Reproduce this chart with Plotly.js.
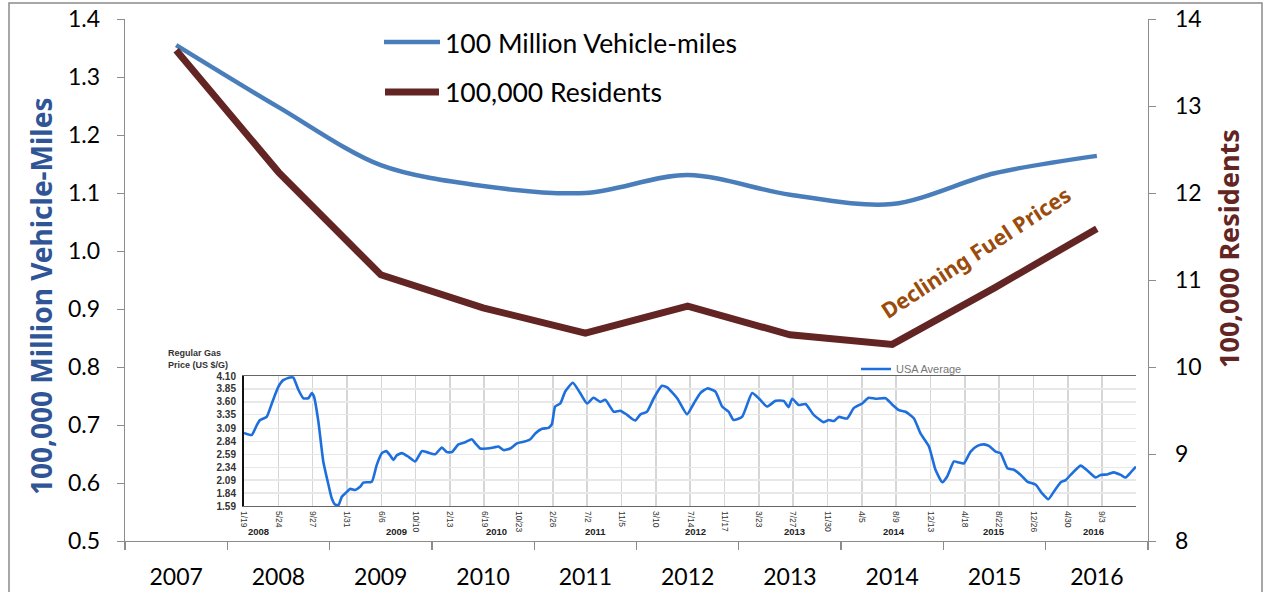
<!DOCTYPE html>
<html>
<head>
<meta charset="utf-8">
<script src="https://cdn.plot.ly/plotly-3.0.1.min.js"></script>
<style>html,body{margin:0;padding:0;background:#fff;}#chart{width:1265px;height:592px;}</style>
</head>
<body>
<div id="chart"></div>
<script>
// ---- Main chart data ----
const years = ['2007','2008','2009','2010','2011','2012','2013','2014','2015','2016'];
const vehicleMiles = [1.355, 1.248, 1.148, 1.112, 1.100, 1.131, 1.097, 1.081, 1.134, 1.164];
const residents = [13.64, 12.24, 11.06, 10.68, 10.39, 10.70, 10.37, 10.26, 10.91, 11.59];
const seriesNames = ['100 Million Vehicle-miles', '100,000 Residents'];

// ---- Inset: regular gas price (US $/G) ----
const gasDates = [
'2008-01-19','2008-02-16','2008-03-06','2008-03-18','2008-04-11','2008-04-30','2008-05-24','2008-06-11','2008-07-06','2008-07-18',
'2008-08-06','2008-08-24','2008-09-11','2008-09-24','2008-10-02','2008-10-18','2008-11-05','2008-11-24','2008-12-06','2008-12-18',
'2008-12-31','2009-01-12','2009-01-24','2009-02-11','2009-03-02','2009-03-20','2009-04-01','2009-05-02','2009-05-20','2009-06-08',
'2009-06-24','2009-07-08','2009-07-21','2009-08-02','2009-08-20','2009-09-14','2009-10-08','2009-11-02','2009-11-20','2009-12-21',
'2010-01-14','2010-02-02','2010-02-20','2010-03-16','2010-04-10','2010-05-04','2010-05-17','2010-06-04','2010-06-28','2010-07-23',
'2010-08-10','2010-08-29','2010-09-22','2010-10-17','2010-11-10','2010-12-05','2010-12-23','2011-01-17','2011-02-10','2011-02-22',
'2011-03-06','2011-03-25','2011-04-12','2011-05-10','2011-06-06','2011-07-01','2011-07-25','2011-08-19','2011-09-06','2011-10-07',
'2011-10-31','2011-11-25','2011-12-25','2012-01-13','2012-02-06','2012-03-02','2012-04-01','2012-04-20','2012-05-27','2012-07-02',
'2012-07-27','2012-08-20','2012-09-14','2012-10-14','2012-11-08','2012-12-02','2012-12-20','2013-01-20','2013-02-26','2013-03-22',
'2013-04-22','2013-05-23','2013-06-22','2013-07-10','2013-07-23','2013-08-16','2013-09-10','2013-10-10','2013-11-16','2013-12-04',
'2013-12-23','2014-01-10','2014-02-10','2014-03-06','2014-04-06','2014-04-30','2014-05-25','2014-07-01','2014-07-25','2014-08-19',
'2014-09-12','2014-10-13','2014-11-06','2014-12-07','2014-12-31','2015-01-25','2015-02-12','2015-03-09','2015-03-27','2015-04-14',
'2015-05-09','2015-06-03','2015-06-27','2015-07-15','2015-08-09','2015-08-27','2015-09-21','2015-10-15','2015-11-09','2015-12-03',
'2016-01-03','2016-01-27','2016-02-18','2016-03-10','2016-04-04','2016-04-22','2016-05-10','2016-06-16','2016-07-11','2016-08-10',
'2016-08-28','2016-09-22','2016-10-16','2016-11-10','2016-11-28','2016-12-17','2017-01-05'];
const gasPrices = [
3.00,2.96,3.15,3.25,3.31,3.57,3.89,4.02,4.07,4.07,
3.83,3.67,3.67,3.77,3.70,3.22,2.45,2.00,1.74,1.62,
1.61,1.77,1.83,1.92,1.90,1.96,2.04,2.06,2.38,2.61,
2.65,2.57,2.48,2.57,2.61,2.54,2.45,2.65,2.63,2.59,
2.72,2.63,2.63,2.78,2.82,2.88,2.80,2.70,2.70,2.72,
2.74,2.67,2.70,2.80,2.83,2.88,2.99,3.08,3.10,3.17,
3.51,3.57,3.80,3.97,3.77,3.57,3.68,3.60,3.64,3.41,
3.43,3.35,3.24,3.36,3.41,3.67,3.91,3.88,3.67,3.36,
3.57,3.77,3.86,3.80,3.51,3.41,3.25,3.31,3.77,3.67,
3.51,3.62,3.62,3.50,3.66,3.54,3.56,3.35,3.21,3.25,
3.23,3.31,3.28,3.48,3.57,3.68,3.66,3.67,3.55,3.44,
3.41,3.28,2.99,2.74,2.29,2.05,2.16,2.45,2.43,2.41,
2.64,2.75,2.78,2.75,2.64,2.61,2.32,2.29,2.19,2.06,
2.00,1.83,1.72,1.87,2.05,2.09,2.19,2.37,2.27,2.14,
2.19,2.20,2.24,2.19,2.14,2.24,2.35];
const gasTickDates = ['2008-01-19','2008-05-24','2008-09-27','2009-01-31','2009-06-06','2009-10-10','2010-02-13','2010-06-19','2010-10-23',
'2011-02-26','2011-07-02','2011-11-05','2012-03-10','2012-07-14','2012-11-17','2013-03-23','2013-07-27','2013-11-30','2014-04-05',
'2014-08-09','2014-12-13','2015-04-18','2015-08-22','2015-12-26','2016-04-30','2016-09-03'];
const gasTickLabels = ['1/19','5/24','9/27','1/31','6/6','10/10','2/13','6/19','10/23','2/26','7/2','11/5','3/10','7/14','11/17',
'3/23','7/27','11/30','4/5','8/9','12/13','4/18','8/22','12/26','4/30','9/3'];
const gasYTicks = [1.59,1.84,2.09,2.34,2.59,2.84,3.09,3.35,3.60,3.85,4.10];
const gasYears = [2008,2009,2010,2011,2012,2013,2014,2015,2016];
const gasRange = ['2008-01-19','2017-01-05'];

// ---- Styling ----
const FONT = 'Lato, "Noto Sans", sans-serif';
const BOLDFONT = '"Noto Sans", "Open Sans", sans-serif';
const ARIAL = 'Arial, "Liberation Sans", sans-serif';
const BLUE = '#4a7ebb', RED = '#632523';
const AXC = '#8c8c8c';

// plot area pixel geometry helpers (for text/decoration placement)
const W = 1265, H = 592, L = 125, R = 117, T = 19, B = 51;
const pw = W - L - R, ph = H - T - B;
const px = v => (v - L) / pw;
const py = v => (H - B - v) / ph;
const bold = s => '<b>' + s + '</b>';

const traces = [
  {x: years, y: vehicleMiles, name: seriesNames[0], type: 'scatter', mode: 'lines',
   line: {color: BLUE, width: 4.5, shape: 'spline', smoothing: 0.9}, xaxis: 'x', yaxis: 'y', showlegend: false},
  {x: years, y: residents, name: seriesNames[1], type: 'scatter', mode: 'lines',
   line: {color: RED, width: 7}, xaxis: 'x', yaxis: 'y2', showlegend: false},
  {x: gasDates, y: gasPrices, name: 'USA Average', type: 'scatter', mode: 'lines',
   line: {color: '#1c6fdc', width: 2.6, shape: 'spline', smoothing: 0.5}, xaxis: 'x2', yaxis: 'y3', showlegend: true}
];

const annotations = [
  {text: seriesNames[0], x: px(443), y: py(43), xref: 'paper', yref: 'paper', xanchor: 'left', yanchor: 'middle',
   showarrow: false, font: {family: FONT, size: 26.5, color: '#000'}},
  {text: seriesNames[1], x: px(443), y: py(92), xref: 'paper', yref: 'paper', xanchor: 'left', yanchor: 'middle',
   showarrow: false, font: {family: FONT, size: 26.5, color: '#000'}},
  {text: bold('100,000 Million Vehicle-Miles'), x: px(41), y: py(297), xref: 'paper', yref: 'paper', textangle: -90,
   xanchor: 'center', yanchor: 'middle',
   showarrow: false, font: {family: BOLDFONT, size: 28, color: '#2f5597'}},
  {text: bold('100,000 Residents'), x: px(1228), y: py(249), xref: 'paper', yref: 'paper', textangle: -90,
   xanchor: 'center', yanchor: 'middle',
   showarrow: false, font: {family: BOLDFONT, size: 27, color: RED}},
  {text: bold('Declining Fuel Prices'), x: px(975), y: py(252), xref: 'paper', yref: 'paper', textangle: -33,
   xanchor: 'center', yanchor: 'middle',
   showarrow: false, font: {family: BOLDFONT, size: 21.5, color: '#9a4c0c'}},
  {text: bold('Regular Gas<br>Price (US $/G)'), x: px(166), y: py(359), xref: 'paper', yref: 'paper', xanchor: 'left', yanchor: 'middle',
   align: 'left', showarrow: false, font: {family: ARIAL, size: 9, color: '#333'}}
];
gasYears.forEach(yr => {
  const d = yr === 2008 ? '2008-03-12' : yr + '-08-01';
  annotations.push({text: bold(String(yr)), x: d, y: py(531), xref: 'x2', yref: 'paper', showarrow: false,
    xanchor: 'center', yanchor: 'middle',
    font: {family: ARIAL, size: 9.5, color: '#222'}});
});

const shapes = [
  {type: 'line', xref: 'paper', yref: 'paper', x0: px(384), x1: px(440), y0: py(42), y1: py(42),
   line: {color: BLUE, width: 4.5}},
  {type: 'line', xref: 'paper', yref: 'paper', x0: px(385), x1: px(439), y0: py(92), y1: py(92),
   line: {color: RED, width: 7}},
  {type: 'rect', xref: 'paper', yref: 'paper', x0: px(9), x1: px(1262), y0: py(620), y1: py(3),
   line: {color: '#8a8a8a', width: 1.5}, fillcolor: 'rgba(0,0,0,0)', layer: 'below'}
];

const layout = {
  width: W, height: H,
  margin: {l: L, r: R, t: T, b: B, pad: 0},
  paper_bgcolor: '#fff', plot_bgcolor: 'rgba(0,0,0,0)',
  font: {family: FONT, color: '#000'},
  xaxis: {type: 'category', range: [-0.5, 9.5], domain: [0, 1], anchor: 'y',
    showline: true, linecolor: AXC, linewidth: 1.3, ticks: 'outside', tickson: 'boundaries',
    ticklen: 8, tickcolor: AXC, tickwidth: 1.3, showgrid: false, zeroline: false,
    tickfont: {family: FONT, size: 23, color: '#000'}, ticklabelstandoff: 15},
  yaxis: {range: [0.5, 1.4], dtick: 0.1, tick0: 0.5, tickformat: '.1f', anchor: 'x',
    showline: true, linecolor: AXC, linewidth: 1.3, ticks: 'outside', ticklen: 7, tickcolor: AXC,
    showgrid: false, zeroline: false, tickfont: {family: FONT, size: 23, color: '#000'}, ticklabelstandoff: 12},
  yaxis2: {range: [8, 14], dtick: 1, overlaying: 'y', side: 'right', anchor: 'x',
    showline: true, linecolor: AXC, linewidth: 1.3, ticks: 'outside', ticklen: 7, tickcolor: AXC,
    showgrid: false, zeroline: false, tickfont: {family: FONT, size: 23, color: '#000'}, ticklabelstandoff: 14},
  xaxis2: {type: 'date', domain: [px(244), px(1136)], anchor: 'y3', range: gasRange,
    tickmode: 'array', tickvals: gasTickDates, ticktext: gasTickLabels, tickangle: 90,
    tickfont: {family: ARIAL, size: 8.5, color: '#333'}, ticks: '',
    showgrid: true, gridcolor: '#d6d6d6', gridwidth: 1.6, zeroline: false,
    showline: true, linecolor: '#666', linewidth: 1.3, mirror: true, ticklabelstandoff: 2},
  yaxis3: {domain: [py(506), py(376)], anchor: 'x2', range: [1.59, 4.10],
    tickmode: 'array', tickvals: gasYTicks, ticktext: gasYTicks.map(v => bold(v.toFixed(2))),
    tickfont: {family: ARIAL, size: 10, color: '#333'}, ticks: '',
    showgrid: true, gridcolor: '#e8e8e8', gridwidth: 1.3, zeroline: false,
    showline: true, linecolor: '#111', linewidth: 2, ticklabelstandoff: 4},
  showlegend: true,
  legend: {x: px(856), y: py(369), xanchor: 'left', yanchor: 'middle', orientation: 'h',
    bgcolor: 'rgba(0,0,0,0)', font: {family: ARIAL, size: 11, color: '#777'}, itemwidth: 30},
  annotations: annotations,
  shapes: shapes
};

Plotly.newPlot('chart', traces, layout, {displayModeBar: false, staticPlot: true});
</script>
</body>
</html>
